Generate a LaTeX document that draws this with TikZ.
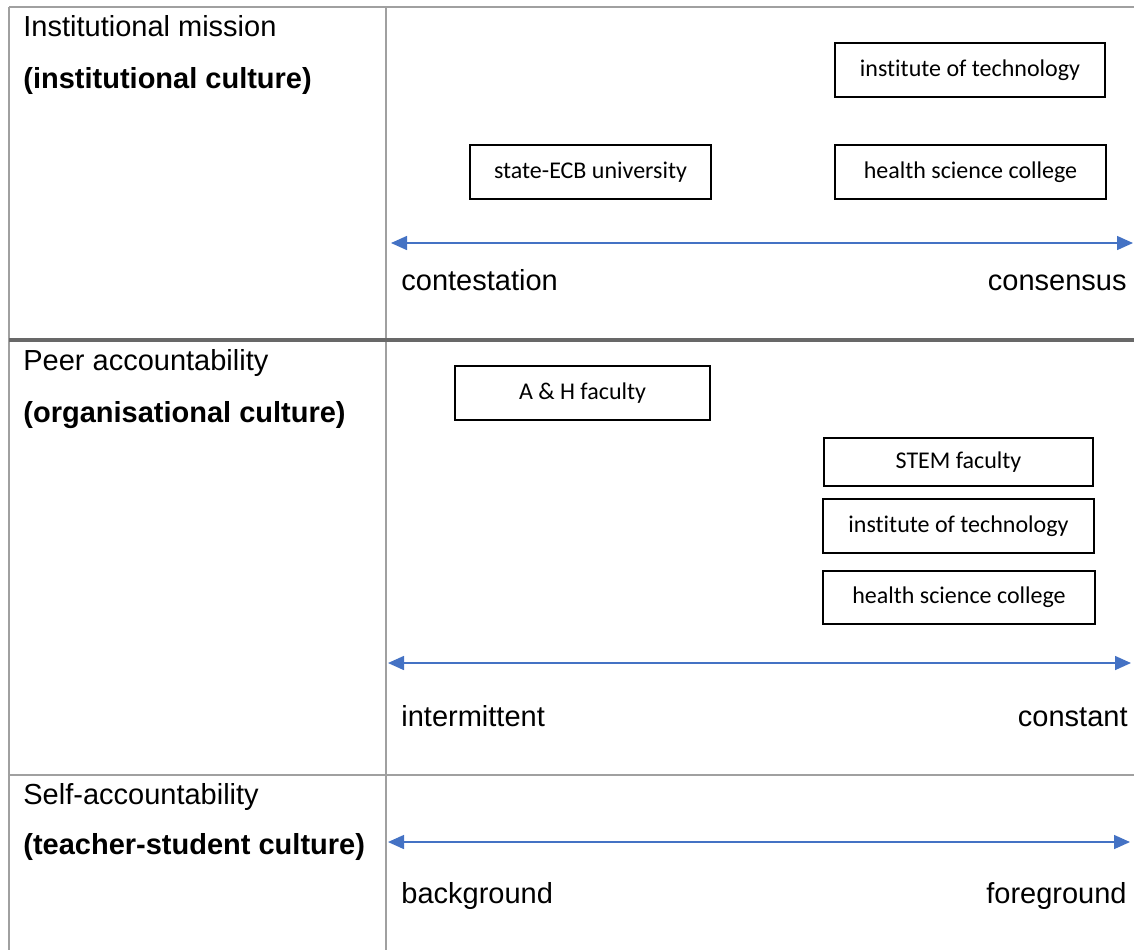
\documentclass[tikz,border=0pt]{standalone}
\usepackage{fontspec}
\setmainfont{Liberation Sans}
\newfontfamily\boxfont[Ligatures=NoCommon]{Carlito}
\usetikzlibrary{arrows.meta}
\definecolor{gridgray}{HTML}{A0A0A0}
\definecolor{rulegray}{HTML}{686868}
\definecolor{axisblue}{HTML}{4472C4}

\begin{document}
\begin{tikzpicture}[x=0.5pt,y=-0.5pt]
\tikzstyle{grid}=[draw=gridgray, line width=1pt]
\tikzstyle{rowtitle}=[anchor=base west, inner sep=0pt, font=\fontsize{14.5}{17}\selectfont]
\tikzstyle{culture}=[anchor=base west, inner sep=0pt, font=\fontsize{14.5}{17}\selectfont\bfseries]
\tikzstyle{pole}=[inner sep=0pt, font=\fontsize{14.5}{17}\selectfont]
\tikzstyle{unit}=[draw, line width=0.85pt, minimum height=27pt, inner sep=0pt, font=\boxfont\fontsize{12}{14}\selectfont]
\tikzstyle{axis}=[draw=axisblue, line width=0.75pt, {Triangle[length=8pt,width=7pt,fill=axisblue]}-{Triangle[length=8pt,width=7pt,fill=axisblue]}]

\useasboundingbox (0,0) rectangle (1134,950);

% table rules
\draw[grid] (9,6.5) -- (1134,6.5);
\draw[grid] (9,6.5) -- (9,950);
\draw[grid] (386,6.5) -- (386,950);
\draw[draw=rulegray, line width=2pt] (9,340) -- (1134,340);
\draw[grid] (9,775) -- (1134,775);

% row titles
\node[rowtitle] (mission) at (23,36) {Institutional mission};
\node[culture] (instcult) at (23,88) {(institutional culture)};
\node[rowtitle] (peer) at (23,370) {Peer accountability};
\node[culture] (orgcult) at (23,422) {(organisational culture)};
\node[rowtitle] (self) at (23,804) {Self-accountability};
\node[culture] (tscult) at (23,854) {(teacher-student culture)};

% institutional mission
\node[unit, minimum width=135pt] (inst1) at (970,70) {institute of technology};
\node[unit, minimum width=120.5pt] (ecb) at (590.5,172) {state-ECB university};
\node[unit, minimum width=135.5pt] (health1) at (970.5,172) {health science college};
\coordinate (a1l) at (391,243);
\coordinate (a1r) at (1133,243);
\draw[axis] (a1l) -- (a1r);
\node[pole, anchor=base west] (contest) at (401,290) {contestation};
\node[pole, anchor=base east] (consens) at (1127,290) {consensus};

% peer accountability
\node[unit, minimum width=127.5pt] (ah) at (582.5,393) {A \& H faculty};
\node[unit, minimum width=134.5pt, minimum height=24pt] (stem) at (958.5,462) {STEM faculty};
\node[unit, minimum width=135.5pt] (inst2) at (958.5,526) {institute of technology};
\node[unit, minimum width=136pt, minimum height=26.5pt] (health2) at (959,597.5) {health science college};
\coordinate (a2l) at (388,663);
\coordinate (a2r) at (1131,663);
\draw[axis] (a2l) -- (a2r);
\node[pole, anchor=base west] (intermit) at (401,726) {intermittent};
\node[pole, anchor=base east] (constant) at (1128,726) {constant};

% self-accountability
\coordinate (a3l) at (388,842);
\coordinate (a3r) at (1130,842);
\draw[axis] (a3l) -- (a3r);
\node[pole, anchor=base west] (backgr) at (401,903) {background};
\node[pole, anchor=base east] (foregr) at (1127,903) {foreground};

\end{tikzpicture}
\end{document}
